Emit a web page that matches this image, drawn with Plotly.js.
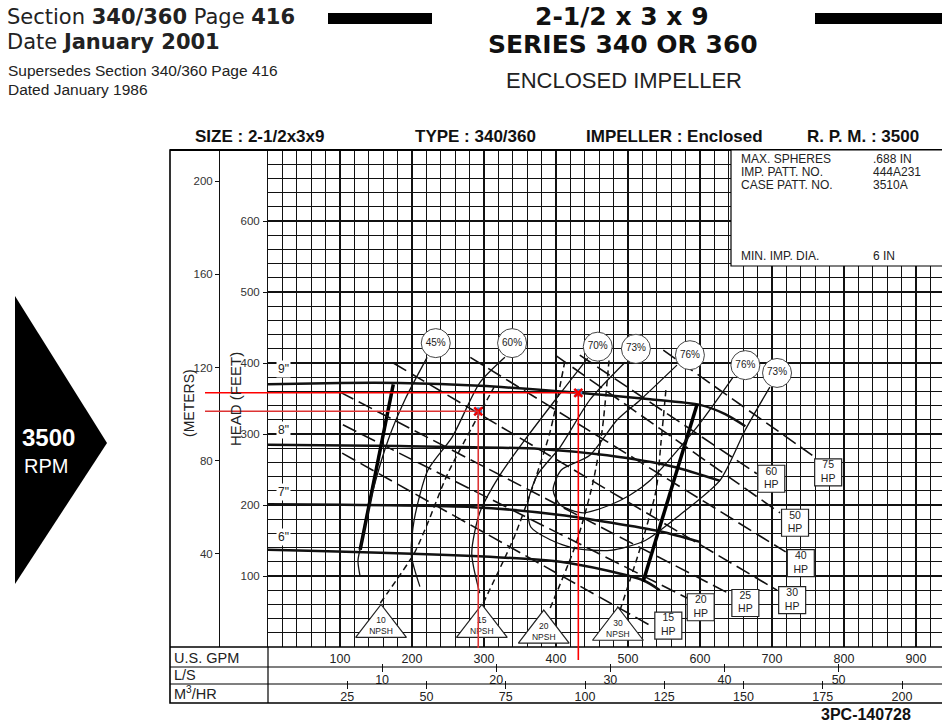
<!DOCTYPE html>
<html><head><meta charset="utf-8">
<script src="https://cdn.plot.ly/plotly-3.0.1.min.js"></script>
<style>html,body{margin:0;padding:0;background:#fff;}#chart{width:942px;height:723px;}</style>
</head><body><div id="chart"></div>
<script>
// ---------- axis tick data ----------
const gpmTicks = [100,200,300,400,500,600,700,800,900];
const lsTicks = [10,20,30,40,50];
const m3Ticks = [25,50,75,100,125,150,175,200];
const feetTicks = [100,200,300,400,500,600];
const meterTicks = [40,80,120,160,200];

// ---------- impeller head curves (GPM, feet) ----------
const imp9Gpm = [0,100,183,294,431,531,600,635,663];
const imp9Head = [370,372,372,368,358,349,341,328,311];
const imp8Gpm = [0,183,378,471,563,628];
const imp8Head = [285,283,279,270,254,234];
const imp7Gpm = [0,285,406,544,600];
const imp7Head = [201,197,186,163,148];
const imp6Gpm = [0,406,521,544];
const imp6Head = [137,120,94,80];
const impLabels = ['9"','8"','7"','6"'];
const impLabelGpm = [21,21,21,21];
const impLabelHead = [391,305,218,155];

// ---------- operating limits (thick) ----------
const minFlowGpm = [174,128];
const minFlowHead = [370,137];
const maxFlowGpm = [596,521];
const maxFlowHead = [342,92];

// ---------- efficiency contours ----------
const eff45Gpm = [221,190,167,146,131,125,128];
const eff45Head = [408,348,292,221,151,122,99];
const eff60Gpm = [329,294,256,222,203,199,211];
const eff60Head = [408,372,296,249,179,130,85];
const eff70Gpm = [444,399,357,322,294,283,294];
const eff70Head = [407,348,292,242,189,132,76];
const eff73Gpm = [496,447,406,374,361,365,392,426,475,524,572,628,663,697];
const eff73Head = [401,348,282,242,203,169,151,139,136,150,186,235,306,366];
const eff76Gpm = [568,517,485,447,407,396,406,438,475,503,531,596,646];
const eff76Head = [397,348,320,270,249,221,200,189,200,214,235,310,380];
const effLabels = ['45%','60%','70%','73%','76%','76%','73%'];
const effLabelGpm = [233,339,458,511,586,663,707];
const effLabelHead = [428,428,423,420,411,397,386];

// ---------- horsepower lines ----------
const hpLabels = ['15<br>HP','20<br>HP','25<br>HP','30<br>HP','40<br>HP','50<br>HP','60<br>HP','75<br>HP'];
const hpLabelGpm = [556,601,663,728,740,732,699,778];
const hpLabelHead = [30,56,62,66,118,175,237,246];
const hp15Gpm = [103,535]; const hp15Head = [273,28];
const hp20Gpm = [104,582]; const hp20Head = [313,69];
const hp25Gpm = [100,639]; const hp25Head = [359,76];
const hp30Gpm = [174,707]; const hp30Head = [400,80];
const hp40Gpm = [281,719]; const hp40Head = [408,134];
const hp50Gpm = [399,711]; const hp50Head = [411,189];
const hp60Gpm = [433,679]; const hp60Head = [411,244];
const hp75Gpm = [549,756]; const hp75Head = [418,270];

// ---------- NPSH required lines ----------
const npshLabels = ['10<br>NPSH','15<br>NPSH','20<br>NPSH','30<br>NPSH'];
const npshLabelGpm = [157,297,383,486];
const npshLabelHead = [29,29,21,25];
const npsh10Gpm = [156,203,222,250,314]; const npsh10Head = [62,132,175,245,366];
const npsh15Gpm = [299,342,369,392,413]; const npsh15Head = [62,155,230,304,406];
const npsh20Gpm = [392,428,451,464,474]; const npsh20Head = [55,146,230,304,408];
const npsh30Gpm = [489,519,539,546,553]; const npsh30Head = [52,146,221,290,366];

// ---------- selected duty points ----------
const dutyGpm = [292,431];
const dutyHead = [332,358];

// ---------- layout geometry ----------
const W = 942, H = 723;
const PX0 = 268, PX1 = 942, PY0 = 150, PY1 = 647;
const xRange = [0, (PX1-PX0)/0.72];
const yRange = [0, 700];
const xDom = [PX0/W, PX1/W];
const yDom = [(H-PY1)/H, (H-PY0)/H];
const px = v => v/W;           // pixel -> paper x
const py = v => (H-v)/H;       // pixel -> paper y
const dx = g => xDom[0] + (g-xRange[0])/(xRange[1]-xRange[0])*(xDom[1]-xDom[0]);
const dy = f => yDom[0] + (f-yRange[0])/(yRange[1]-yRange[0])*(yDom[1]-yDom[0]);

const FONT = 'Liberation Sans Narrow, Arial Narrow, Liberation Sans, Arial, sans-serif';
const HFONT = 'Liberation Sans, Arial, Helvetica, sans-serif';
const DFONT = 'DejaVu Sans, Liberation Sans, sans-serif';

function line(x,y,w,dash){
  return {type:'scatter',mode:'lines',x:x,y:y,line:{color:'#111',width:w,dash:dash||'solid',shape:'spline',smoothing:0.7},hoverinfo:'skip',showlegend:false};
}
const HPD = '15px,6px', NPD = '6px,4px';
const traces = [
  line(imp9Gpm,imp9Head,2.5), line(imp8Gpm,imp8Head,2.5), line(imp7Gpm,imp7Head,2.5), line(imp6Gpm,imp6Head,2.5),
  {type:'scatter',mode:'lines',x:minFlowGpm,y:minFlowHead,line:{color:'#000',width:3.5},hoverinfo:'skip',showlegend:false},
  {type:'scatter',mode:'lines',x:maxFlowGpm,y:maxFlowHead,line:{color:'#000',width:3.5},hoverinfo:'skip',showlegend:false},
  line(eff45Gpm,eff45Head,1.3), line(eff60Gpm,eff60Head,1.3), line(eff70Gpm,eff70Head,1.3),
  line(eff73Gpm,eff73Head,1.3), line(eff76Gpm,eff76Head,1.3),
  line(hp15Gpm,hp15Head,1.6,HPD), line(hp20Gpm,hp20Head,1.6,HPD), line(hp25Gpm,hp25Head,1.6,HPD),
  line(hp30Gpm,hp30Head,1.6,HPD), line(hp40Gpm,hp40Head,1.6,HPD), line(hp50Gpm,hp50Head,1.6,HPD),
  line(hp60Gpm,hp60Head,1.6,HPD), line(hp75Gpm,hp75Head,1.6,HPD),
  line(npsh10Gpm,npsh10Head,1.5,NPD), line(npsh15Gpm,npsh15Head,1.5,NPD),
  line(npsh20Gpm,npsh20Head,1.5,NPD), line(npsh30Gpm,npsh30Head,1.5,NPD),
  {type:'scatter',mode:'markers+text',x:effLabelGpm,y:effLabelHead,text:effLabels,textposition:'middle center',
   marker:{symbol:'circle',size:29,color:'#fff',line:{color:'#444',width:1}},textfont:{family:FONT,size:10,color:'#222'},hoverinfo:'skip',showlegend:false},
  {type:'scatter',mode:'markers+text',x:hpLabelGpm,y:hpLabelHead,text:hpLabels,textposition:'middle center',
   marker:{symbol:'square',size:27,color:'#fff',line:{color:'#222',width:1.2}},textfont:{family:FONT,size:10.5,color:'#222'},hoverinfo:'skip',showlegend:false},
  {type:'scatter',mode:'markers',x:npshLabelGpm,y:npshLabelHead,
   marker:{symbol:'triangle-up',size:44,color:'#fff',line:{color:'#222',width:1.2}},hoverinfo:'skip',showlegend:false,cliponaxis:false},
  {type:'scatter',mode:'text',x:npshLabelGpm,y:npshLabelHead,text:npshLabels,textposition:'middle center',
   textfont:{family:FONT,size:8.5,color:'#222'},hoverinfo:'skip',showlegend:false,cliponaxis:false},
  {type:'scatter',mode:'markers',x:dutyGpm,y:dutyHead,marker:{symbol:'circle',size:8,color:'#3a8fd0'},hoverinfo:'skip',showlegend:false,cliponaxis:false},
  {type:'scatter',mode:'markers',x:dutyGpm,y:dutyHead,marker:{symbol:'x-thin',size:8,line:{color:'#e00',width:2.5}},hoverinfo:'skip',showlegend:false,cliponaxis:false}
];

const shapes = [];
const ann = [];
// outer frame & table lines
shapes.push({type:'rect',xref:'paper',yref:'paper',x0:px(170),x1:px(946),y0:py(703),y1:py(150),line:{color:'#000',width:1.6}});
shapes.push({type:'line',xref:'paper',yref:'paper',x0:px(170),x1:px(946),y0:py(150),y1:py(150),line:{color:'#000',width:2.2}});
shapes.push({type:'line',xref:'paper',yref:'paper',x0:px(170),x1:px(946),y0:py(647),y1:py(647),line:{color:'#000',width:1.6}});
shapes.push({type:'line',xref:'paper',yref:'paper',x0:px(170),x1:px(946),y0:py(667),y1:py(667),line:{color:'#000',width:1.2}});
shapes.push({type:'line',xref:'paper',yref:'paper',x0:px(170),x1:px(946),y0:py(684),y1:py(684),line:{color:'#000',width:1.2}});
shapes.push({type:'line',xref:'paper',yref:'paper',x0:px(268),x1:px(268),y0:py(703),y1:py(647),line:{color:'#000',width:1.2}});
// info box
shapes.push({type:'rect',xref:'paper',yref:'paper',x0:px(731),x1:px(946),y0:py(266),y1:py(150),fillcolor:'#fff',line:{color:'#000',width:1.2},layer:'above'});
// header bars
shapes.push({type:'rect',xref:'paper',yref:'paper',x0:px(328),x1:px(432),y0:py(24),y1:py(13),fillcolor:'#000',line:{width:0}});
shapes.push({type:'rect',xref:'paper',yref:'paper',x0:px(815),x1:px(946),y0:py(24),y1:py(13),fillcolor:'#000',line:{width:0}});
// RPM arrow
shapes.push({type:'path',xref:'paper',yref:'paper',path:`M ${px(15)} ${py(296)} L ${px(107)} ${py(443)} L ${px(15)} ${py(584)} Z`,fillcolor:'#000',line:{width:0}});
// red duty lines
shapes.push({type:'line',xref:'paper',yref:'y',x0:px(205),x1:dx(dutyGpm[1]),y0:dutyHead[1],y1:dutyHead[1],line:{color:'#f00',width:1.6},layer:'above'});
shapes.push({type:'line',xref:'paper',yref:'y',x0:px(205),x1:dx(dutyGpm[0]),y0:dutyHead[0],y1:dutyHead[0],line:{color:'#d33',width:1.6},layer:'above'});
shapes.push({type:'line',xref:'x',yref:'paper',x0:dutyGpm[0],x1:dutyGpm[0],y0:py(648),y1:dy(dutyHead[0]),line:{color:'#d33',width:1.6},layer:'above'});
shapes.push({type:'line',xref:'x',yref:'paper',x0:dutyGpm[1],x1:dutyGpm[1],y0:py(660),y1:dy(dutyHead[1]),line:{color:'#f00',width:1.6},layer:'above'});

function A(text,x,y,size,opts){
  ann.push(Object.assign({text:text,xref:'paper',yref:'paper',x:px(x),y:py(y),showarrow:false,xanchor:'left',yanchor:'middle',
    font:{family:HFONT,size:size,color:'#222'}},opts||{}));
}
A('Section <b>340/360</b> Page <b>416</b>',5,17,21,{font:{family:DFONT,size:21,color:'#222'}});
A('Date <b>January 2001</b>',5,42,21,{font:{family:DFONT,size:21,color:'#222'}});
A('Supersedes Section 340/360 Page 416',6,71,15.5);
A('Dated January 1986',6,89,15.5);
const BIG = {family:DFONT,size:25,color:'#111'};
A('<b>2-1/2 x 3 x 9</b>',622,16,25,{xanchor:'center',font:BIG});
A('<b>SERIES 340 OR 360</b>',623,44,25,{xanchor:'center',font:BIG});
A('ENCLOSED IMPELLER',624,80,22,{xanchor:'center'});
A('<b>3500</b>',20,437,24,{font:{family:HFONT,size:24,color:'#fff'}});
A('RPM',22,466,20,{font:{family:HFONT,size:20,color:'#fff'}});
// chart header
const CF = {family:FONT,size:17,color:'#111'};
A('<b>SIZE : 2-1/2x3x9</b>',193,136,17,{font:CF});
A('<b>TYPE : 340/360</b>',413,136,17,{font:CF});
A('<b>IMPELLER : Enclosed</b>',584,136,17,{font:CF});
A('<b>R. P. M. : 3500</b>',805,136,17,{font:CF});
const IF = {family:FONT,size:12,color:'#222'};
A('MAX. SPHERES',739,159,12,{font:IF}); A('.688 IN',871,159,12,{font:IF});
A('IMP. PATT. NO.',739,172,12,{font:IF}); A('444A231',871,172,12,{font:IF});
A('CASE PATT. NO.',739,185,12,{font:IF}); A('3510A',871,185,12,{font:IF});
A('MIN. IMP. DIA.',739,256,12,{font:IF}); A('6 IN',871,256,12,{font:IF});
// axis titles
A('(METERS)',189,403,14,{xanchor:'center',textangle:-90,font:{family:FONT,size:14,color:'#222'}});
A('HEAD (FEET)',235,399,15,{xanchor:'center',textangle:-90,font:{family:FONT,size:15,color:'#222'}});
// impeller diameter labels (data positioned)
impLabels.forEach((t,i)=>ann.push({text:t,xref:'x',yref:'y',x:impLabelGpm[i],y:impLabelHead[i],showarrow:false,
  bgcolor:'#fff',borderpad:1,font:{family:FONT,size:12,color:'#222'}}));
// table labels
const TF = {family:FONT,size:14.5,color:'#222'};
A('U.S. GPM',172,658,14.5,{font:TF});
A('L/S',172,675,14.5,{font:TF});
A('M<sup>3</sup>/HR',172,693,14.5,{font:TF});
A('<b>3PC-140728</b>',866,714,16,{xanchor:'center',font:{family:FONT,size:16,color:'#111'}});

const G = '#111';
const layout = {
  width:W,height:H,margin:{l:0,r:0,t:0,b:0,pad:0},paper_bgcolor:'#fff',plot_bgcolor:'#fff',showlegend:false,
  xaxis:{domain:xDom,range:xRange,tickmode:'linear',tick0:0,dtick:20,showticklabels:false,ticks:'',
    showgrid:true,gridcolor:G,gridwidth:1.2,zeroline:false,showline:false},
  yaxis:{domain:yDom,range:yRange,tickmode:'linear',tick0:0,dtick:20,showticklabels:false,ticks:'',
    showgrid:true,gridcolor:G,gridwidth:1.2,zeroline:false,showline:true,linecolor:G,linewidth:1.3},
  xaxis4:{overlaying:'x',anchor:'y',side:'bottom',range:xRange,tickmode:'array',tickvals:gpmTicks,ticks:'',showgrid:false,
    zeroline:false,showline:false,tickfont:{family:FONT,size:12.5,color:'#222'},ticklabelstandoff:2},
  yaxis3:{overlaying:'y',anchor:'x',side:'left',range:yRange,tickmode:'array',tickvals:feetTicks,ticks:'outside',ticklen:4,
    tickcolor:G,showgrid:false,zeroline:false,showline:false,tickfont:{family:FONT,size:11.5,color:'#333'},ticklabelstandoff:1},
  yaxis2:{overlaying:'y',anchor:'free',position:px(219),side:'left',range:[0,700*0.3048],tickmode:'array',tickvals:meterTicks,
    ticks:'outside',ticklen:4,tickcolor:G,showgrid:false,zeroline:false,showline:true,linecolor:G,linewidth:1.2,
    tickfont:{family:FONT,size:11.5,color:'#333'}},
  xaxis2:{overlaying:'x',anchor:'free',position:py(663),side:'bottom',range:[0,xRange[1]*0.0630902],tickmode:'array',tickvals:lsTicks,
    ticks:'outside',ticklen:8,tickcolor:G,showgrid:false,zeroline:false,showline:false,tickfont:{family:FONT,size:12.5,color:'#222'},ticklabelstandoff:-3},
  xaxis3:{overlaying:'x',anchor:'free',position:py(680),side:'bottom',range:[0,xRange[1]*0.227125],tickmode:'array',tickvals:m3Ticks,
    ticks:'outside',ticklen:8,tickcolor:G,showgrid:false,zeroline:false,showline:false,tickfont:{family:FONT,size:12.5,color:'#222'},ticklabelstandoff:-3},
  shapes:shapes,annotations:ann
};
// invisible anchor traces to activate the scale axes
[['x','y2'],['x2','y'],['x3','y'],['x4','y'],['x','y3']].forEach(p=>traces.push({type:'scatter',mode:'markers',x:[0],y:[0],xaxis:p[0],yaxis:p[1],marker:{opacity:0},hoverinfo:'skip',showlegend:false}));
Plotly.newPlot('chart',traces,layout,{staticPlot:true,displayModeBar:false});
</script></body></html>
